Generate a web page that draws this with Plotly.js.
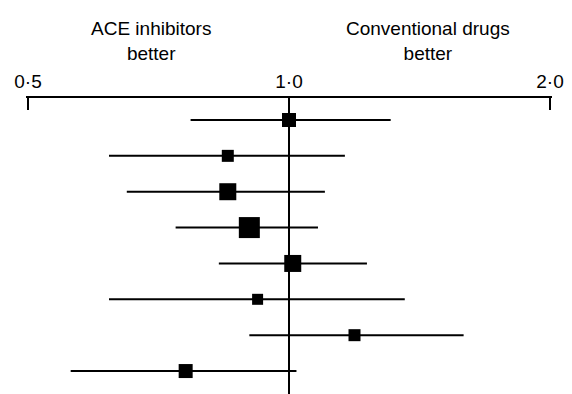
<!DOCTYPE html>
<html>
<head>
<meta charset="utf-8">
<script src="https://cdn.plot.ly/plotly-3.0.1.min.js"></script>
<style>html,body{margin:0;padding:0;background:#fff;}#chart{width:572px;height:394px;}</style>
</head>
<body>
<div id="chart"></div>
<script>
// Forest plot data (odds ratios, ACE inhibitors vs conventional drugs)
var rows = [1, 2, 3, 4, 5, 6, 7, 8];
var estimate = [1.00, 0.85, 0.85, 0.90, 1.01, 0.92, 1.19, 0.76];
var lower = [0.77, 0.62, 0.65, 0.74, 0.83, 0.62, 0.90, 0.56];
var upper = [1.31, 1.16, 1.10, 1.08, 1.23, 1.36, 1.59, 1.02];
var weightSize = [14, 12, 17, 21, 17, 11, 12, 14];
var tickValues = [0.5, 1.0, 2.0];
var tickLabels = ['0·5', '1·0', '2·0'];
var nullValue = 1.0;
var leftHeader = 'ACE inhibitors<br>better';
var rightHeader = 'Conventional drugs<br>better';

var yTop = 0.387, yBottom = 8.64;
var font = '"Liberation Sans", Arial, Helvetica, sans-serif';

// small padding so the end ticks are not clipped (~2px)
var pxPerLog = 522 / Math.log10(4);
var pad = 2 / pxPerLog;

var errPlus = estimate.map(function (v, i) { return upper[i] - v; });
var errMinus = estimate.map(function (v, i) { return v - lower[i]; });

var traces = [
  {
    x: [nullValue, nullValue], y: [yTop, yBottom],
    mode: 'lines', line: {color: '#000', width: 2},
    hoverinfo: 'skip', showlegend: false, cliponaxis: false
  },
  {
    x: estimate, y: rows, mode: 'markers', type: 'scatter',
    marker: {symbol: 'square', size: weightSize, color: '#000', opacity: 1, line: {width: 0}},
    error_x: {type: 'data', symmetric: false, array: errPlus, arrayminus: errMinus,
              color: '#000', thickness: 2, width: 0},
    showlegend: false
  }
];

var layout = {
  width: 572, height: 394,
  margin: {l: 26, r: 20, t: 98, b: 0, pad: 0},
  paper_bgcolor: '#fff', plot_bgcolor: '#fff',
  font: {family: font, color: '#000', size: 19},
  showlegend: false,
  xaxis: {
    type: 'log', range: [Math.log10(0.5) - pad, Math.log10(2) + pad],
    side: 'top', showline: true, linewidth: 2, linecolor: '#000',
    ticks: 'inside', ticklen: 12, tickwidth: 2, tickcolor: '#000',
    tickmode: 'array', tickvals: tickValues, ticktext: tickLabels,
    tickfont: {family: font, size: 19, color: '#000'},
    showgrid: false, zeroline: false, mirror: false, fixedrange: true
  },
  yaxis: {
    range: [yBottom, yTop], visible: false, showgrid: false, zeroline: false, fixedrange: true
  },
  annotations: [
    {xref: 'paper', yref: 'paper', x: 0.2375, y: 1, yanchor: 'bottom', xanchor: 'center',
     yshift: 32, text: leftHeader, showarrow: false, align: 'center',
     font: {family: font, size: 19, color: '#000'}},
    {xref: 'paper', yref: 'paper', x: 0.764, y: 1, yanchor: 'bottom', xanchor: 'center',
     yshift: 32, text: rightHeader, showarrow: false, align: 'center',
     font: {family: font, size: 19, color: '#000'}}
  ]
};

Plotly.newPlot('chart', traces, layout, {displayModeBar: false, staticPlot: true});
</script>
</body>
</html>
